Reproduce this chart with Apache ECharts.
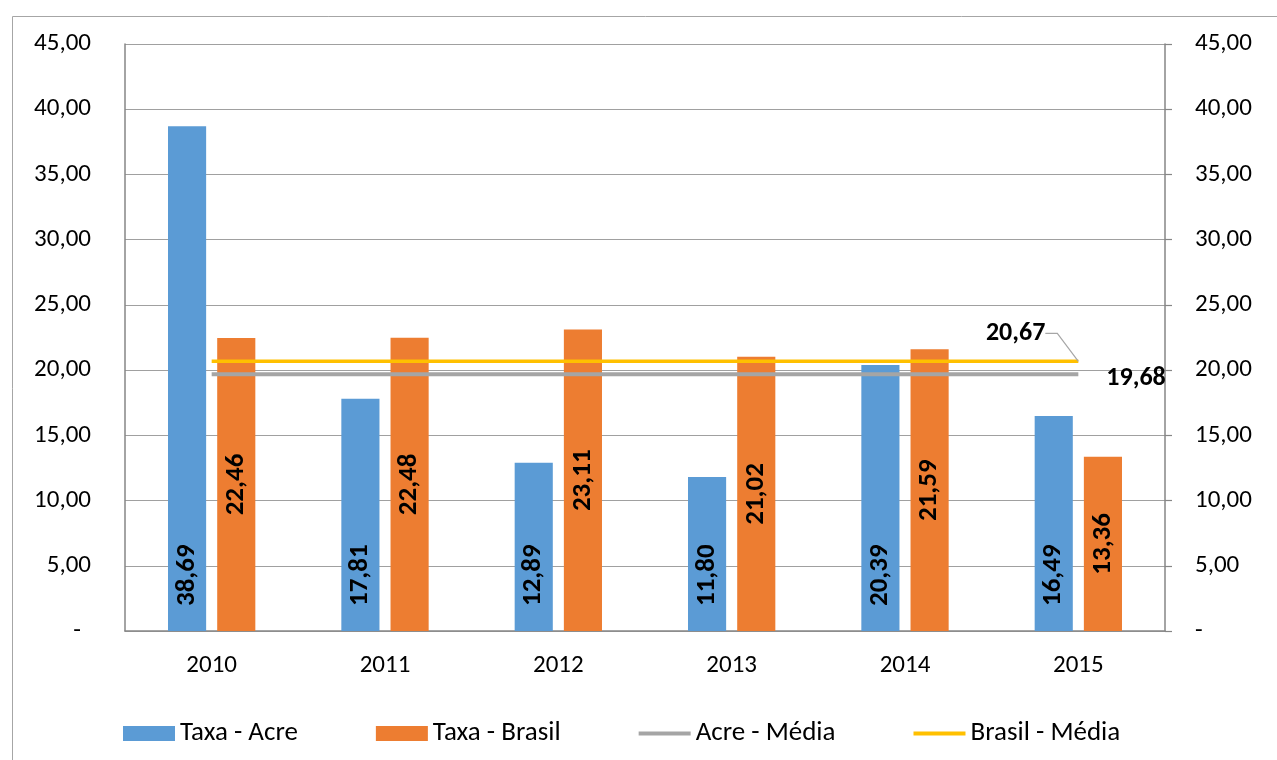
<!DOCTYPE html>
<html>
<head>
<meta charset="utf-8">
<script src="https://cdn.jsdelivr.net/npm/echarts@6/dist/echarts.min.js"></script>
<style>
  html, body { margin: 0; padding: 0; background: #fff; }
  #chart { width: 1277px; height: 760px; }
</style>
</head>
<body>
<div id="chart"></div>
<script>
// Taxas anuais (Acre x Brasil) e médias do período
const anos = ['2010', '2011', '2012', '2013', '2014', '2015'];
const taxaAcre = [38.69, 17.81, 12.89, 11.80, 20.39, 16.49];
const taxaBrasil = [22.46, 22.48, 23.11, 21.02, 21.59, 13.36];
const mediaAcre = [19.68, 19.68, 19.68, 19.68, 19.68, 19.68];
const mediaBrasil = [20.67, 20.67, 20.67, 20.67, 20.67, 20.67];

const FONT = "Carlito, Calibri, 'Liberation Sans', sans-serif";
const FS_AXIS = 25;
const FS_LEGEND = 27;
const FS_BAR = 27;
const FS_MEAN = 26;
const fmt = v => v.toFixed(2).replace('.', ',');
const LINE_ICON = 'path://M0,0 L52,0 L52,4 L0,4 Z';

// only the last point of each average line carries a label
function lastLabelled(arr, label) {
  return arr.map((v, i) => i === arr.length - 1 ? { value: v, label: label } : { value: v });
}

const chart = echarts.init(document.getElementById('chart'), null, { renderer: 'canvas' });

chart.setOption({
  animation: false,
  backgroundColor: '#fff',
  textStyle: { fontFamily: FONT },
  graphic: [{
    type: 'rect',
    left: 10, top: 14,
    shape: { width: 1300, height: 800 },
    style: { fill: 'none', stroke: '#A6A6A6', lineWidth: 1 },
    silent: true, z: -10
  }],
  grid: { left: 125, right: 112, top: 44, bottom: 129 },
  legend: {
    left: 123, top: 720, padding: 0,
    itemWidth: 52, itemHeight: 15, itemGap: 78,
    textStyle: { fontSize: FS_LEGEND, color: '#000', fontFamily: FONT },
    data: [
      { name: 'Taxa - Acre', icon: 'rect' },
      { name: 'Taxa - Brasil', icon: 'rect' },
      { name: 'Acre - Média', icon: LINE_ICON },
      { name: 'Brasil - Média', icon: LINE_ICON }
    ]
  },
  xAxis: {
    type: 'category',
    data: anos,
    axisLine: { lineStyle: { color: '#868686', width: 1.5 } },
    axisTick: { show: false },
    axisLabel: { fontSize: FS_AXIS, color: '#000', margin: 22 }
  },
  yAxis: [
    {
      type: 'value', position: 'left', min: 0, max: 45, interval: 5,
      axisLine: { show: true, lineStyle: { color: '#868686', width: 1.5 } },
      axisTick: { show: false },
      splitLine: { lineStyle: { color: '#A0A0A0', width: 1.2 } },
      axisLabel: {
        fontSize: FS_AXIS, color: '#000', margin: 34,
        formatter: v => v === 0 ? '{z|-}' : fmt(v),
        rich: { z: { fontSize: FS_AXIS, color: '#000', padding: [0, 10, 0, 0] } }
      }
    },
    {
      type: 'value', position: 'right', min: 0, max: 45, interval: 5,
      axisLine: { show: true, lineStyle: { color: '#868686', width: 1.5 } },
      axisTick: { show: true, length: 7, lineStyle: { color: '#868686', width: 1.2 } },
      splitLine: { show: false },
      axisLabel: {
        fontSize: FS_AXIS, color: '#000', margin: 30,
        formatter: v => v === 0 ? '-' : fmt(v)
      }
    }
  ],
  series: [
    {
      name: 'Taxa - Acre', type: 'bar', data: taxaAcre,
      barWidth: '22%', barGap: '29%',
      itemStyle: { color: '#5B9BD5' },
      label: {
        show: true, position: 'insideBottom', distance: 25, rotate: 90,
        align: 'left', verticalAlign: 'middle',
        fontSize: FS_BAR, fontWeight: 'bold', color: '#000',
        formatter: p => fmt(p.value)
      }
    },
    {
      name: 'Taxa - Brasil', type: 'bar', data: taxaBrasil,
      barWidth: '22%',
      itemStyle: { color: '#ED7D31' },
      label: {
        show: true, position: 'inside', rotate: 90,
        align: 'center', verticalAlign: 'middle',
        fontSize: FS_BAR, fontWeight: 'bold', color: '#000',
        formatter: p => fmt(p.value)
      }
    },
    {
      name: 'Acre - Média', type: 'line',
      data: lastLabelled(mediaAcre, {
        show: true, position: 'right', distance: 28, offset: [0, 4],
        fontSize: FS_MEAN, fontWeight: 'bold', color: '#000',
        formatter: p => fmt(p.value)
      }),
      symbol: 'circle', symbolSize: 0.01, showSymbol: true, z: 5,
      lineStyle: { color: '#A5A5A5', width: 4 },
      itemStyle: { color: '#A5A5A5' },
      label: { show: false }
    },
    {
      name: 'Brasil - Média', type: 'line',
      data: lastLabelled(mediaBrasil, {
        show: true, position: 'left', distance: 0,
        fontSize: FS_MEAN, fontWeight: 'bold', color: '#000',
        formatter: p => fmt(p.value)
      }),
      symbol: 'circle', symbolSize: 0.01, showSymbol: true, z: 6,
      lineStyle: { color: '#FFC000', width: 3.5 },
      itemStyle: { color: '#FFC000' },
      label: { show: false },
      labelLayout: { dx: -33, dy: -28 },
      labelLine: { show: true, length2: 12, lineStyle: { color: '#A6A6A6', width: 1.2 } }
    }
  ]
});
</script>
</body>
</html>
